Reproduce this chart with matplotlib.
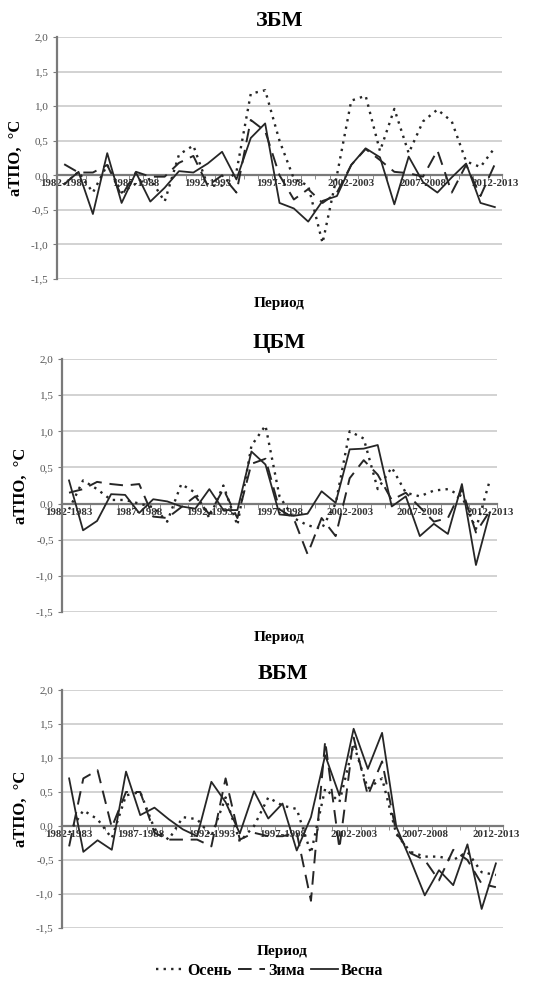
import numpy as np
import matplotlib
matplotlib.use("Agg")
import matplotlib.pyplot as plt
from matplotlib.lines import Line2D

plt.rcParams['font.family'] = ['Liberation Serif', 'DejaVu Serif']

seasons = [f"{y}-{y + 1}" for y in range(1982, 2013)]
tick_every = 5

# ЗБМ
zbm_osen = [-0.13, 0.05, -0.25, 0.15, -0.25, -0.12, -0.05, -0.38, 0.30, 0.43,
            -0.15, -0.15, 0.05, 1.18, 1.23, 0.50, -0.05, -0.15, -0.98, 0.00,
            1.08, 1.15, 0.35, 0.96, 0.32, 0.78, 0.95, 0.78, 0.20, 0.12, 0.40]
zbm_zima = [0.16, 0.04, 0.04, 0.15, -0.30, 0.05, -0.02, -0.02, 0.18, 0.28,
            -0.15, 0.00, -0.25, 0.80, 0.64, 0.00, -0.35, -0.20, -0.40, -0.25,
            0.15, 0.38, 0.22, 0.05, 0.03, -0.02, 0.36, -0.25, 0.15, -0.30, 0.16]
zbm_vesna = [-0.13, 0.05, -0.56, 0.32, -0.40, 0.04, -0.38, -0.18, 0.06, 0.04,
             0.17, 0.34, -0.06, 0.54, 0.75, -0.40, -0.48, -0.67, -0.37, -0.30,
             0.15, 0.39, 0.26, -0.42, 0.27, -0.10, -0.25, -0.03, 0.17, -0.40, -0.46]

# ЦБМ
cbm_osen = [-0.08, 0.32, 0.20, 0.05, 0.05, 0.00, -0.05, -0.25, 0.27, 0.15,
            -0.20, 0.25, -0.30, 0.80, 1.08, 0.10, -0.20, -0.30, -0.35, 0.00,
            1.00, 0.90, 0.20, 0.50, 0.15, 0.10, 0.18, 0.20, 0.10, -0.35, 0.33]
cbm_zima = [0.15, 0.20, 0.30, 0.27, 0.25, 0.27, -0.18, -0.20, -0.05, 0.10,
            -0.15, 0.20, -0.20, 0.55, 0.62, -0.08, -0.20, -0.70, -0.20, -0.45,
            0.35, 0.60, 0.40, 0.05, 0.15, -0.05, -0.25, -0.20, 0.20, -0.40, -0.10]
cbm_vesna = [0.32, -0.37, -0.24, 0.13, 0.12, -0.13, 0.06, 0.03, -0.04, -0.07,
             0.20, -0.09, -0.09, 0.72, 0.54, -0.15, -0.17, -0.14, 0.17, 0.01,
             0.75, 0.76, 0.81, -0.04, 0.10, -0.45, -0.28, -0.42, 0.27, -0.85, -0.12]

# ВБМ
vbm_osen = [-0.10, 0.23, 0.10, -0.18, 0.45, 0.50, -0.04, -0.20, 0.13, 0.10,
            -0.15, 0.42, -0.23, 0.00, 0.42, 0.30, 0.25, -0.40, 0.55, 0.35,
            1.20, 0.55, 0.70, -0.12, -0.38, -0.45, -0.45, -0.50, -0.38, -0.68, -0.72]
vbm_zima = [-0.30, 0.70, 0.82, -0.02, 0.50, 0.50, -0.10, -0.20, -0.20, -0.20,
            -0.30, 0.70, -0.20, -0.10, -0.15, -0.15, -0.10, -1.10, 1.25, -0.33,
            1.30, 0.45, 0.95, -0.10, -0.40, -0.50, -0.80, -0.35, -0.50, -0.85, -0.90]
vbm_vesna = [0.70, -0.38, -0.21, -0.35, 0.80, 0.16, 0.27, 0.10, -0.05, -0.15,
             0.65, 0.35, -0.11, 0.51, 0.11, 0.33, -0.36, 0.13, 1.04, 0.45,
             1.43, 0.84, 1.37, -0.01, -0.50, -1.02, -0.65, -0.87, -0.27, -1.22, -0.55]

panels = [
    ("ЗБМ", zbm_osen, zbm_zima, zbm_vesna, [57, 37, 502, 279]),
    ("ЦБМ", cbm_osen, cbm_zima, cbm_vesna, [62, 359, 497, 612]),
    ("ВБМ", vbm_osen, vbm_zima, vbm_vesna, [62, 690, 503, 928]),
]

yticks = [-1.5, -1.0, -0.5, 0.0, 0.5, 1.0, 1.5, 2.0]
ylabels = ["-1,5", "-1,0", "-0,5", "0,0", "0,5", "1,0", "1,5", "2,0"]

W, H = 540, 982
fig = plt.figure(figsize=(W / 100, H / 100), dpi=100)
lc = "#262626"
x = np.arange(len(seasons))
dot = (0, (1, 2.2))
dash = (0, (7, 4))

for title, osen, zima, vesna, (l, t, r, b) in panels:
    ax = fig.add_axes([l / W, 1 - b / H, (r - l) / W, (b - t) / H])
    ax.set_xlim(-0.5, len(seasons) - 0.5)
    ax.set_ylim(-1.5, 2.0)
    for yv in yticks:
        if yv != 0:
            ax.axhline(yv, color="#cfcfcf", lw=1.3, zorder=0)
    ax.plot(x, osen, color=lc, lw=1.7, linestyle=dot, zorder=3)
    ax.plot(x, zima, color=lc, lw=1.4, linestyle=dash, zorder=3)
    ax.plot(x, vesna, color=lc, lw=1.3, zorder=3)

    for s in ["top", "right"]:
        ax.spines[s].set_visible(False)
    ax.spines["bottom"].set_position(("data", 0))
    ax.spines["bottom"].set_color("#7a7a7a")
    ax.spines["bottom"].set_linewidth(1.6)
    ax.spines["left"].set_color("#7a7a7a")
    ax.spines["left"].set_linewidth(1.6)

    ax.set_yticks(yticks)
    ax.set_yticklabels(ylabels, fontsize=8, color="#555555")
    ax.tick_params(axis="y", length=3, color="#7a7a7a", pad=3)

    ax.set_xticks(x[::tick_every])
    ax.set_xticklabels(seasons[::tick_every], fontsize=7.8, fontweight="bold",
                       color="#333333")
    ax.set_xticks(np.arange(-0.5, len(seasons), 1), minor=True)
    ax.tick_params(axis="x", which="major", length=0, pad=3)
    ax.tick_params(axis="x", which="minor", length=3, color="#7a7a7a")

    ax.set_title(title, fontsize=16, fontweight="bold", pad=8)
    ax.set_ylabel("аТПО,  °С", fontsize=12, fontweight="bold", labelpad=5)
    ax.text(0.5, -0.1, "Период", transform=ax.transAxes, ha="center", va="center",
            fontsize=11, fontweight="bold")

handles = [
    Line2D([], [], color=lc, lw=1.7, linestyle=dot),
    Line2D([], [], color=lc, lw=1.4, linestyle=dash),
    Line2D([], [], color=lc, lw=1.3),
]
fig.legend(handles, ["Осень", "Зима", "Весна"], loc="center", ncol=3,
           bbox_to_anchor=(0.5, 1 - 971 / H), frameon=False,
           prop={"weight": "bold", "size": 11.5}, handlelength=1.7,
           handletextpad=0.2, columnspacing=0.4)

fig.savefig("out.png", dpi=100)
